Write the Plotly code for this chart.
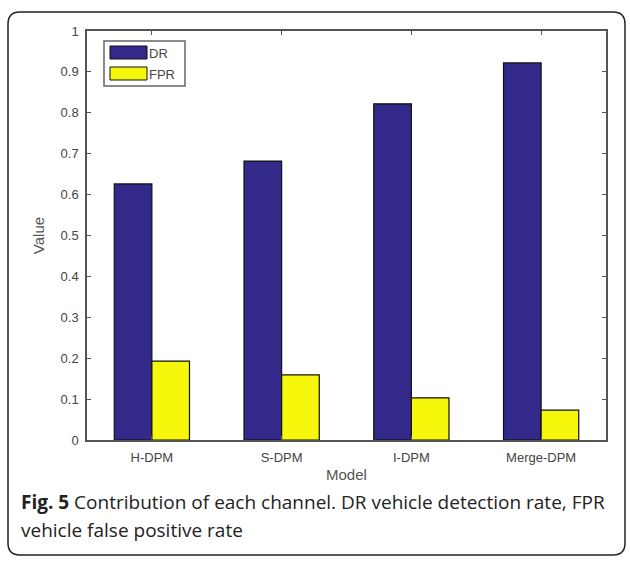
import plotly.graph_objects as go

models = ["H-DPM", "S-DPM", "I-DPM", "Merge-DPM"]
dr_values = [0.626, 0.682, 0.822, 0.922]
fpr_values = [0.193, 0.159, 0.103, 0.073]
y_ticks = [0, 0.1, 0.2, 0.3, 0.4, 0.5, 0.6, 0.7, 0.8, 0.9, 1]
y_tick_labels = ["0", "0.1", "0.2", "0.3", "0.4", "0.5", "0.6", "0.7", "0.8", "0.9", "1"]

DR_COLOR = "#33298a"
FPR_COLOR = "#f7f70c"
AXIS_COLOR = "#555555"
TICK_FONT = dict(family="Liberation Sans, Arial, sans-serif", size=13, color="#444444")
TITLE_FONT = dict(family="Liberation Sans, Arial, sans-serif", size=15, color="#555555")
CAP_FONT = dict(family="Open Sans, Noto Sans, sans-serif", size=19, color="#222222")

fig = go.Figure()
fig.add_trace(go.Bar(x=models, y=dr_values, name="DR", marker=dict(color=DR_COLOR, line=dict(color="#111111", width=1.2)), showlegend=False))
fig.add_trace(go.Bar(x=models, y=fpr_values, name="FPR", marker=dict(color=FPR_COLOR, line=dict(color="#111111", width=1.2)), showlegend=False))

W, H = 630, 561
ml, mr, mt, mb = 87, 24, 31, 121
pw, ph = W - ml - mr, H - mt - mb

def px(x):
    return (x - ml) / pw

def py(y):
    return (H - mb - y) / ph

# rounded outer frame
x0, x1, y0, y1, r = 8, 625, 12, 555, 12
path = (
    f"M {px(x0 + r)} {py(y0)} L {px(x1 - r)} {py(y0)} "
    f"Q {px(x1)} {py(y0)} {px(x1)} {py(y0 + r)} L {px(x1)} {py(y1 - r)} "
    f"Q {px(x1)} {py(y1)} {px(x1 - r)} {py(y1)} L {px(x0 + r)} {py(y1)} "
    f"Q {px(x0)} {py(y1)} {px(x0)} {py(y1 - r)} L {px(x0)} {py(y0 + r)} "
    f"Q {px(x0)} {py(y0)} {px(x0 + r)} {py(y0)} Z"
)
shapes = [dict(type="path", xref="paper", yref="paper", path=path, line=dict(color="#222222", width=1.5), layer="below")]

# legend box
shapes.append(dict(type="rect", xref="paper", yref="paper", x0=px(104), x1=px(185), y0=py(86), y1=py(41),
                   line=dict(color="#666666", width=1.5), fillcolor="white"))
shapes.append(dict(type="rect", xref="paper", yref="paper", x0=px(110), x1=px(147), y0=py(59), y1=py(46),
                   line=dict(color="#111111", width=1), fillcolor=DR_COLOR))
shapes.append(dict(type="rect", xref="paper", yref="paper", x0=px(110), x1=px(147), y0=py(80), y1=py(67),
                   line=dict(color="#111111", width=1), fillcolor=FPR_COLOR))

annotations = [
    dict(text="DR", xref="paper", yref="paper", x=px(147), y=py(53), xanchor="left", yanchor="middle",
         showarrow=False, font=TICK_FONT),
    dict(text="FPR", xref="paper", yref="paper", x=px(147), y=py(74), xanchor="left", yanchor="middle",
         showarrow=False, font=TICK_FONT),
    dict(text="Model", xref="paper", yref="paper", x=0.5, y=py(475), xanchor="center", yanchor="middle",
         showarrow=False, font=TITLE_FONT, borderpad=0),
    dict(text="<b>Fig. 5</b> Contribution of each channel. DR vehicle detection rate, FPR",
         xref="paper", yref="paper", x=px(20), y=py(502), xanchor="left", yanchor="middle",
         showarrow=False, font=CAP_FONT, borderpad=0),
    dict(text="vehicle false positive rate",
         xref="paper", yref="paper", x=px(20), y=py(530), xanchor="left", yanchor="middle",
         showarrow=False, font=CAP_FONT, borderpad=0),
]

fig.update_layout(
    width=W, height=H,
    margin=dict(l=ml, r=mr, t=mt, b=mb),
    paper_bgcolor="white", plot_bgcolor="white",
    barmode="group", bargap=0.42, bargroupgap=0,
    shapes=shapes, annotations=annotations,
    xaxis=dict(range=[-0.5, 3.5], showline=True, linecolor=AXIS_COLOR, linewidth=1.5, mirror="ticks",
               ticks="inside", ticklen=4, tickcolor=AXIS_COLOR, showgrid=False, tickfont=TICK_FONT,
               ticklabelstandoff=5),
    yaxis=dict(range=[0, 1], tickvals=y_ticks, ticktext=y_tick_labels, showline=True, linecolor=AXIS_COLOR,
               linewidth=1.5, mirror="ticks", ticks="inside", ticklen=4, tickcolor=AXIS_COLOR, showgrid=False,
               zeroline=False, tickfont=TICK_FONT, ticklabelstandoff=4,
               title=dict(text="Value", font=TITLE_FONT, standoff=12)),
)

fig.write_html("out.html", config={"displayModeBar": False},
               post_script="document.body.style.margin='0';document.body.style.padding='0';")
